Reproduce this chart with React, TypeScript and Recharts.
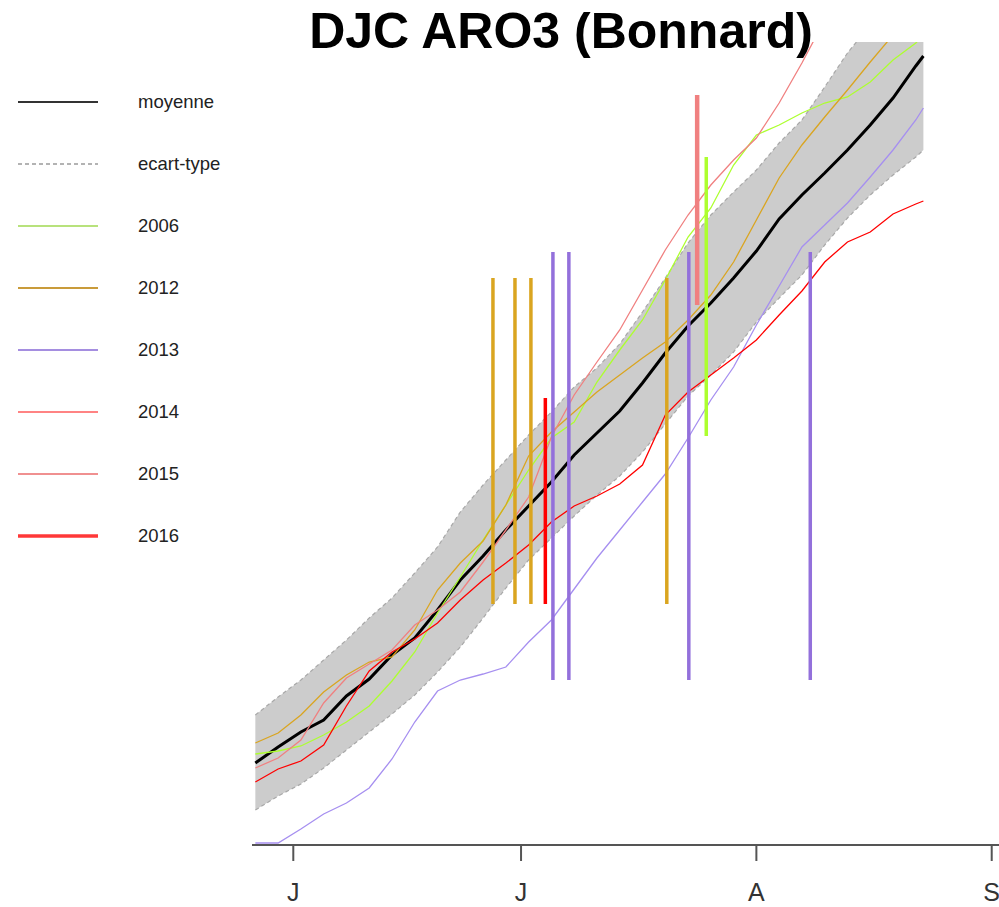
import { ComposedChart, Area, Line, XAxis, YAxis, ReferenceLine, Legend } from 'recharts';

// day of year (non-leap), DJC values
const days = [147, 150, 153, 156, 159, 162, 165, 168, 171, 174, 177, 180, 183, 186, 189, 192, 195, 198, 201, 204, 207, 210, 213, 216, 219, 222, 225, 228, 231, 234, 235];
const meanDjc = [82, 98, 113, 125, 149, 166, 190, 207, 235, 265, 289, 315, 339, 363, 390, 412, 434, 462, 492, 519, 542, 567, 594, 626, 650, 672, 695, 720, 747, 779, 789];
const sdHigh = [130, 148, 165, 185, 205, 227, 247, 272, 298, 333, 360, 385, 410, 433, 458, 477, 501, 533, 567, 602, 630, 653, 675, 702, 725, 758, 792, 820, 847, 875, 885];
const sdLow = [35, 49, 61, 77, 95, 113, 131, 150, 173, 198, 227, 257, 285, 307, 329, 350, 369, 393, 421, 449, 470, 493, 523, 547, 570, 600, 627, 650, 670, 688, 695];
const y2006 = [91, 94, 99, 110, 123, 139, 164, 193, 232, 268, 305, 340, 375, 407, 423, 463, 495, 525, 565, 608, 637, 680, 710, 720, 732, 742, 748, 763, 785, 802, 810];
const y2012 = [102, 112, 130, 153, 170, 183, 188, 215, 255, 282, 304, 340, 389, 413, 433, 453, 470, 487, 503, 525, 550, 583, 625, 667, 700, 728, 755, 783, 810, 830, 837];
const y2013 = [2, 2, 16, 31, 42, 57, 86, 123, 154, 165, 171, 178, 203, 225, 256, 287, 315, 343, 371, 407, 445, 478, 520, 559, 598, 620, 642, 668, 695, 725, 737];
const y2014 = [63, 76, 84, 100, 139, 174, 193, 206, 222, 245, 265, 282, 300, 323, 339, 349, 361, 380, 430, 453, 470, 487, 505, 530, 554, 583, 603, 613, 631, 641, 644];
const y2015 = [77, 87, 105, 142, 167, 181, 195, 220, 235, 253, 283, 315, 348, 408, 450, 483, 515, 555, 595, 630, 660, 685, 707, 742, 782, 825, null, null, null, null, null];

// stage markers (vertical segments)
const stageYears = ['2012', '2012', '2012', '2012', '2013', '2013', '2013', '2013', '2016', '2015', '2006'];
const stageDays = [178.3, 181.2, 183.3, 201.2, 186.2, 188.3, 204.1, 220.1, 185.2, 205.2, 206.4];
const stageLow = [241, 241, 241, 241, 165, 165, 165, 165, 241, 540, 409];
const stageHigh = [567, 567, 567, 567, 593, 593, 593, 593, 447, 750, 688];

const monthTicks = [152, 182, 213, 244];
const monthLabels = ['J', 'J', 'A', 'S'];

const legendNames = ['moyenne', 'ecart-type', '2006', '2012', '2013', '2014', '2015', '2016'];

const yearColor: Record<string, string> = {
  '2006': '#adff2f',
  '2012': '#daa520',
  '2013': '#9370db',
  '2014': '#ff0000',
  '2015': '#f08080',
  '2016': '#ff0000',
};

const legendStyle: Record<string, { color: string; width: number; dash?: string }> = {
  moyenne: { color: '#333333', width: 2 },
  'ecart-type': { color: '#9a9a9a', width: 1.5, dash: '4 3' },
  '2006': { color: '#b8e27c', width: 2 },
  '2012': { color: '#c99b3a', width: 2 },
  '2013': { color: '#a58ee0', width: 2 },
  '2014': { color: '#ff5a5a', width: 1.5 },
  '2015': { color: '#f09090', width: 2 },
  '2016': { color: '#ff3838', width: 3.5 },
};

const chartData = days.map((day, i) => ({
  day,
  mean: meanDjc[i],
  sdLow: sdLow[i],
  sdHigh: sdHigh[i],
  band: [sdLow[i], sdHigh[i]],
  y2006: y2006[i],
  y2012: y2012[i],
  y2013: y2013[i],
  y2014: y2014[i],
  y2015: y2015[i],
}));

const FONT = '"Liberation Sans", Arial, sans-serif';

const MonthTick = (props: any) => {
  const { x, y, payload } = props;
  const idx = monthTicks.indexOf(payload?.value);
  return (
    <text x={x} y={y + 38} textAnchor="middle" fontSize={25} fill="#333" fontFamily={FONT}>
      {monthLabels[idx] ?? ''}
    </text>
  );
};

const SideLegend = () => (
  <div style={{ fontFamily: FONT }}>
    {legendNames.map((name) => {
      const s = legendStyle[name];
      return (
        <div key={name} style={{ position: 'relative', height: 62 }}>
          <svg width={100} height={62} style={{ position: 'absolute', left: 0, top: 0 }}>
            <line x1={18} x2={98} y1={31} y2={31} stroke={s.color} strokeWidth={s.width} strokeDasharray={s.dash} />
          </svg>
          <span style={{ position: 'absolute', left: 138, top: 20, fontSize: 18.5, color: '#222', lineHeight: '22px' }}>{name}</span>
        </div>
      );
    })}
  </div>
);

export default function App() {
  return (
    <div style={{ position: 'absolute', left: 0, top: 0, width: 999, height: 907, background: '#fff' }}>
      <ComposedChart width={999} height={907} data={chartData} margin={{ top: 42, right: 0, bottom: 0, left: 252 }}>
        <XAxis
          dataKey="day"
          type="number"
          domain={[146.56, 244.96]}
          allowDataOverflow
          ticks={monthTicks}
          interval={0}
          tick={<MonthTick />}
          tickSize={16}
          height={62}
          axisLine={{ stroke: '#555', strokeWidth: 2 }}
          tickLine={{ stroke: '#555', strokeWidth: 2 }}
        />
        <YAxis hide type="number" domain={[0, 803]} allowDataOverflow />
        <Legend
          layout="vertical"
          align="center"
          verticalAlign="middle"
          content={<SideLegend />}
          wrapperStyle={{ left: 0, top: 71, width: 240, height: 500 }}
        />
        <Area dataKey="band" type="linear" stroke="none" fill="#cccccc" fillOpacity={1} isAnimationActive={false} legendType="none" />
        <Line dataKey="sdHigh" type="linear" stroke="#a8a8a8" strokeWidth={1.2} strokeDasharray="4 3" dot={false} isAnimationActive={false} />
        <Line dataKey="sdLow" type="linear" stroke="#a8a8a8" strokeWidth={1.2} strokeDasharray="4 3" dot={false} isAnimationActive={false} />
        <Line dataKey="mean" type="linear" stroke="#000" strokeWidth={3} dot={false} isAnimationActive={false} />
        <Line dataKey="y2006" type="linear" stroke={yearColor['2006']} strokeWidth={1.3} dot={false} isAnimationActive={false} />
        <Line dataKey="y2012" type="linear" stroke={yearColor['2012']} strokeWidth={1.3} dot={false} isAnimationActive={false} />
        <Line dataKey="y2013" type="linear" stroke="#a68ff0" strokeWidth={1.3} dot={false} isAnimationActive={false} />
        <Line dataKey="y2014" type="linear" stroke={yearColor['2014']} strokeWidth={1.3} dot={false} isAnimationActive={false} />
        <Line dataKey="y2015" type="linear" stroke={yearColor['2015']} strokeWidth={1.3} dot={false} isAnimationActive={false} />
        {stageDays.map((d, i) => (
          <ReferenceLine
            key={`stage-${i}`}
            segment={[{ x: d, y: stageLow[i] }, { x: d, y: stageHigh[i] }]}
            stroke={yearColor[stageYears[i]]}
            strokeWidth={stageYears[i] === '2015' ? 4.5 : 3.5}
            ifOverflow="visible"
          />
        ))}
      </ComposedChart>
      <div
        style={{
          position: 'absolute',
          left: 0,
          width: 1122,
          top: 2,
          textAlign: 'center',
          fontFamily: FONT,
          fontWeight: 'bold',
          fontSize: 50,
          color: '#000',
          pointerEvents: 'none',
        }}
      >
        DJC ARO3 (Bonnard)
      </div>
    </div>
  );
}
